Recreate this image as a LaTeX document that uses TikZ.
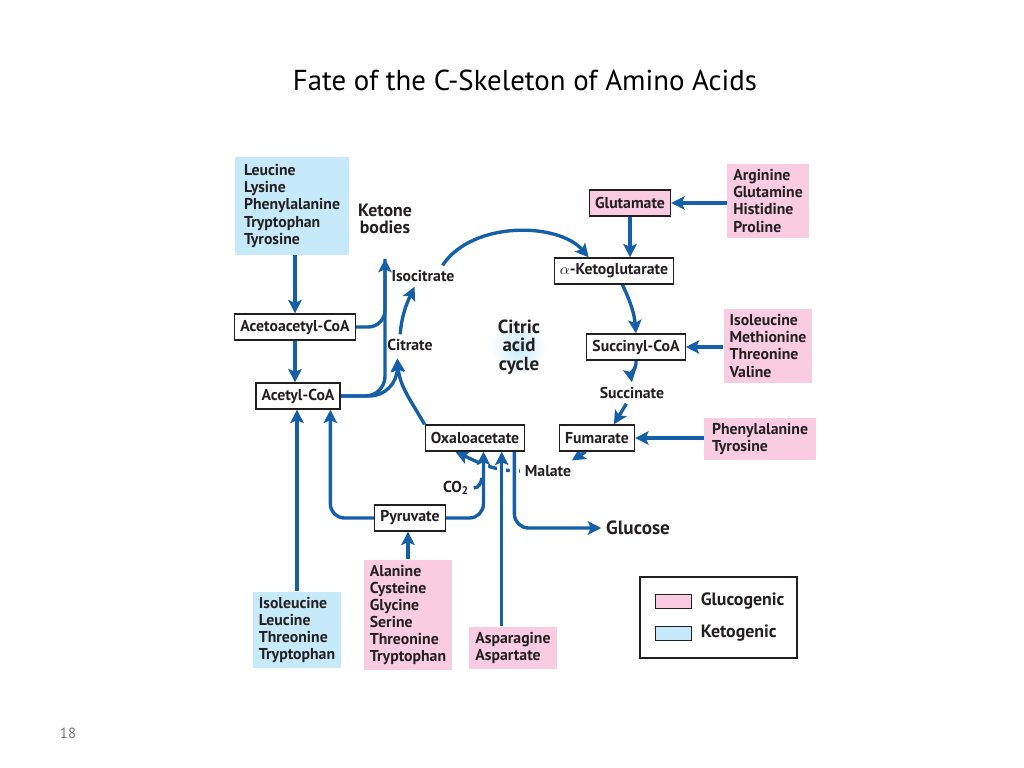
\documentclass[tikz,border=0pt]{standalone}
\usepackage{fontspec}
\setmainfont{PT Sans}
\usetikzlibrary{arrows.meta,backgrounds}
\definecolor{flowblue}{RGB}{20,95,168}
\definecolor{glucopink}{RGB}{249,204,226}
\definecolor{ketoblue}{RGB}{198,234,250}
\definecolor{inkgray}{RGB}{35,31,32}

\begin{document}
\begin{tikzpicture}[x=0.025cm,y=-0.025cm,
  every node/.style={font=\fontsize{11.2}{12.1}\selectfont\bfseries, text=inkgray},
  stage/.style={draw=inkgray, fill=white, line width=0.9pt, inner xsep=4pt, minimum height=18.5pt},
  gluco/.style={fill=glucopink, align=left, inner sep=4pt},
  keto/.style={fill=ketoblue, align=left, inner sep=4pt},
  flow/.style={draw=flowblue, line width=2.4pt, -{Stealth[length=9.5pt,width=9.5pt,inset=2pt]}},
  pipe/.style={draw=flowblue, line width=2.4pt},
  overpass/.style={preaction={draw=white, line width=6.5pt, -}}]
  \useasboundingbox (0,0) rectangle (1024,768);
  \node[font=\fontsize{20.5}{22}\selectfont, text=black] (title) at (525,80) {Fate of the C-Skeleton of Amino Acids};
  \node[font=\fontsize{10.5}{12}\selectfont, text=black!55] (page) at (68,733) {18};

  \node[keto, minimum width=81pt, minimum height=70pt] (ketoA) at (292,206) {Leucine\\Lysine\\Phenylalanine\\Tryptophan\\Tyrosine};
  \node[align=center, font=\fontsize{12.7}{12.5}\selectfont\bfseries] (ketone) at (385,219) {Ketone\\bodies};
  \node[stage] (acac) at (295,327) {Acetoacetyl-CoA};
  \node[stage] (acoa) at (298,396) {Acetyl-CoA};
  \node (isocit) at (423,276) {Isocitrate};
  \node (citrate) at (410,345) {Citrate};
  \shade[inner color=ketoblue, outer color=white] (519,347) circle (0.7cm);
  \node[align=center, font=\fontsize{13.5}{13}\selectfont\bfseries] (tca) at (519,347) {Citric\\acid\\cycle};
  \node[stage] (akg) at (614,271) {$\alpha$-Ketoglutarate};
  \node[stage, fill=glucopink] (glu) at (630,203) {Glutamate};
  \node[gluco, minimum width=58pt, minimum height=52pt] (glucoG) at (768,201) {Arginine\\Glutamine\\Histidine\\Proline};
  \node[stage] (sccoa) at (636,347) {Succinyl-CoA};
  \node[gluco, minimum width=63pt, minimum height=51pt] (glucoS) at (768,346) {Isoleucine\\Methionine\\Threonine\\Valine};
  \node (succ) at (632,393) {Succinate};
  \node[stage] (fum) at (597,438) {Fumarate};
  \node[gluco, minimum width=79pt, minimum height=30pt] (glucoF) at (760,439) {Phenylalanine\\Tyrosine};
  \node (malate) at (548,471) {Malate};
  \node[stage] (oaa) at (475,438) {Oxaloacetate};
  \node (co2) at (456,488) {CO\textsubscript{2}};
  \node[stage] (pyr) at (410,518) {Pyruvate};
  \node[font=\fontsize{13.6}{13}\selectfont\bfseries] (glc) at (638,528) {Glucose};
  \node[keto, minimum width=63pt, minimum height=53pt] (ketoB) at (297,630) {Isoleucine\\Leucine\\Threonine\\Tryptophan};
  \node[gluco, minimum width=63pt, minimum height=77pt] (glucoA) at (408,615) {Alanine\\Cysteine\\Glycine\\Serine\\Threonine\\Tryptophan};
  \node[gluco, minimum width=63pt, minimum height=30.5pt] (glucoB) at (513,648) {Asparagine\\Aspartate};

  \node[draw=inkgray, line width=0.9pt, minimum width=111.5pt, minimum height=57.5pt] (legend) at (718.5,617.5) {};
  \node[draw=inkgray, fill=glucopink, line width=0.7pt, minimum width=25pt, minimum height=10.5pt, inner sep=0pt] (swG) at (673.5,601.5) {};
  \node[draw=inkgray, fill=ketoblue, line width=0.7pt, minimum width=25pt, minimum height=10.5pt, inner sep=0pt] (swK) at (673.5,633.5) {};
  \node[anchor=west, xshift=3pt, font=\fontsize{12.7}{13}\selectfont\bfseries] (legG) at (swG.east) {Glucogenic};
  \node[anchor=west, xshift=3pt, font=\fontsize{12.7}{13}\selectfont\bfseries] (legK) at (swK.east) {Ketogenic};

  \coordinate (kbin) at ([yshift=-14pt]ketone.south);
  \coordinate (citin) at ([xshift=-9pt,yshift=-2pt]citrate.south);
  \begin{scope}[on background layer]
    \draw[flow] (acac.north |- ketoA.south) -- (acac.north);
    \draw[flow] (acac.south) -- (acac.south |- acoa.north);
    \draw[pipe, rounded corners=12pt] (acac.east) -| (kbin);
    \draw[flow, rounded corners=14pt] (acoa.east) -| (kbin);
    \draw[flow, rounded corners=20pt] (acoa.east) -| (citin);
    \draw[flow] (oaa.north west) to[out=120,in=-85] (citin);
    \draw[flow] ([xshift=-7pt]citrate.north) to[out=85,in=-115] ([xshift=-6pt]isocit.south);
    \draw[flow] ([xshift=-12pt]isocit.north east) .. controls +(30,-45) and +(-30,-35) .. ([xshift=-18pt]akg.north);
    \draw[flow] (glu.south) -- (glu.south |- akg.north);
    \draw[flow] (glucoG.west |- glu.east) -- (glu.east);
    \draw[flow] ([xshift=6pt]akg.south) to[out=-65,in=95] (sccoa.north);
    \draw[flow] (glucoS.west |- sccoa.east) -- (sccoa.east);
    \draw[flow] (sccoa.south) to[out=-85,in=100] (succ.north);
    \draw[flow] ([xshift=-4pt]succ.south) -- ([xshift=12pt]fum.north);
    \draw[flow] (glucoF.west |- fum.east) -- (fum.east);
    \draw[flow] ([xshift=-8pt]fum.south) -- ([xshift=-3pt]malate.north east);
    \draw[flow] (malate.west) to[out=180,in=-25] ([xshift=-14pt]oaa.south);
    \draw[flow, overpass, rounded corners=10pt] (pyr.east) -| ([xshift=6pt]oaa.south);
    \draw[pipe] (co2.east) to[out=0,in=-100] ++(8,-10);
    \draw[flow, overpass] ([xshift=-8pt]glucoB.north) -- ([xshift=-8pt]glucoB.north |- oaa.south);
    \draw[flow, overpass, rounded corners=10pt] ([xshift=28pt]oaa.south) |- (glc.west);
    \draw[flow, rounded corners=10pt] (pyr.west) -| ([xshift=23pt]acoa.south);
    \draw[flow] (ketoB.north) -- (ketoB.north |- acoa.south);
    \draw[flow] (glucoA.north) -- (glucoA.north |- pyr.south);
  \end{scope}
\end{tikzpicture}
\end{document}
